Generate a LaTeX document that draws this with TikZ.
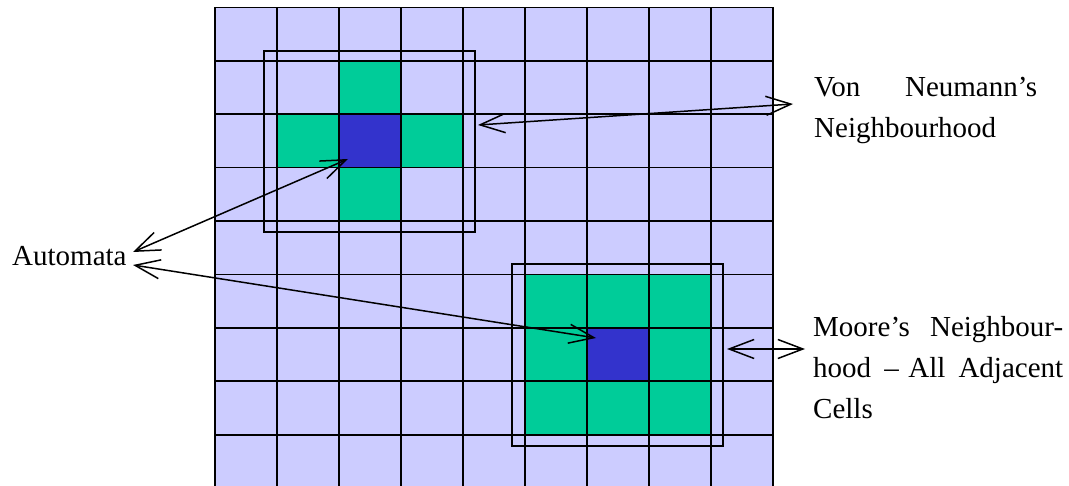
\documentclass[tikz,border=0pt]{standalone}
\usepackage{fontspec}
\setmainfont{Liberation Serif}
\usetikzlibrary{arrows.meta}

\definecolor{lilac}{RGB}{204,204,255}
\definecolor{mint}{RGB}{0,204,153}
\definecolor{core}{RGB}{51,51,204}

% fill one grid cell: column, row, colour
\newcommand{\paintcell}[3]{\fill[#3] ({215+62*#1},{7.5+53.4*#2}) rectangle +(62,53.4);}

\begin{document}
\begin{tikzpicture}[
    x=1pt, y=-1pt,
    gridline/.style={line width=1.6pt, black},
    hood/.style={draw, line width=1.5pt},
    arrow/.style={{Straight Barb[length=25pt,width=19pt]}-{Straight Barb[length=25pt,width=19pt]}, line width=1.5pt},
    lbl/.style={font=\fontsize{29}{41}\selectfont, inner sep=0pt}
]
    \useasboundingbox (0,0) rectangle (1069,486);
    \clip (0,0) rectangle (1069,486);

    % --- Cell grid ---
    \fill[lilac] (215,7.5) rectangle (773,488.1);
    % Von Neumann cells
    \paintcell{2}{1}{mint}
    \paintcell{1}{2}{mint}
    \paintcell{3}{2}{mint}
    \paintcell{2}{3}{mint}
    \paintcell{2}{2}{core}
    % Moore cells
    \foreach \i in {5,6,7} {
        \foreach \j in {5,6,7} {
            \paintcell{\i}{\j}{mint}
        }
    }
    \paintcell{6}{6}{core}
    \foreach \i in {0,...,9} {
        \draw[gridline] ({215+62*\i},7.5) -- ({215+62*\i},488.1);
        \draw[gridline] (215,{7.5+53.4*\i}) -- (773,{7.5+53.4*\i});
    }

    % --- Neighbourhood frames ---
    \draw[hood] (264,51) rectangle (475,232);
    \draw[hood] (512,264) rectangle (723,446);

    % --- Labels ---
    \node[lbl, anchor=base west] (automata) at (12,266) {Automata};
    \node[lbl, anchor=base west, text width=223pt, align=left] (vonneumann) at (814,97)
        {Von\hfill Neumann’s\\Neighbourhood};
    \node[lbl, anchor=base west, text width=250pt, align=left] (moore) at (813,337)
        {Moore’s\hfill Neighbour-\\hood\hfill – All\hfill Adjacent\\Cells};

    % --- Arrow end points ---
    \coordinate (auto_up) at (133,252);
    \coordinate (auto_down) at (133,265);
    \coordinate (vn_core) at (348,159);
    \coordinate (moore_core) at (596,338);
    \coordinate (vn_frame) at (478,125);
    \coordinate (vn_text) at (793,104);
    \coordinate (moore_frame) at (727,349);
    \coordinate (moore_text) at (805,349);

    % --- Arrows ---
    \draw[arrow] (auto_up) -- (vn_core);
    \draw[arrow] (auto_down) -- (moore_core);
    \draw[arrow] (vn_frame) -- (vn_text);
    \draw[arrow] (moore_frame) -- (moore_text);
\end{tikzpicture}
\end{document}
